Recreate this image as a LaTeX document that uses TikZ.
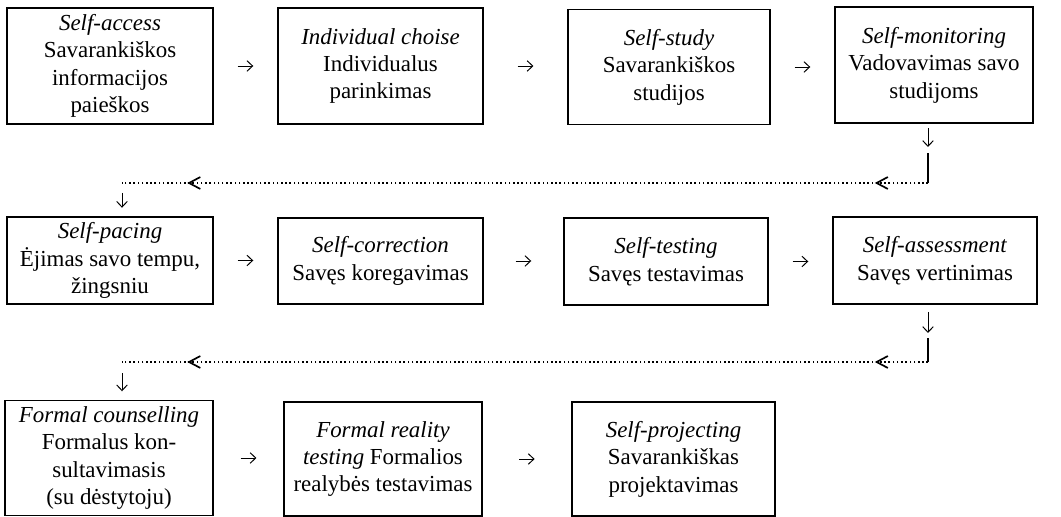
\documentclass[tikz,border=0pt]{standalone}
\usepackage{fontspec}
\setmainfont{Liberation Serif}
\usetikzlibrary{arrows.meta,decorations.markings}

\tikzset{
  stage/.style={draw, line width=1.1pt, align=center, inner sep=0pt,
    font=\fontsize{16.3}{19.5}\selectfont},
  tip/.style={-{Straight Barb[length=4pt,width=7.5pt]}, line width=0.7pt},
  flow/.style={tip, shorten <=#1, shorten >=#1},
  flow/.default=17pt,
  bar/.style={line width=0.9pt},
  back/.style={line width=1.1pt, dash pattern=on 1.1pt off 1.9pt,
    postaction={decorate},
    decoration={markings,
      mark=at position 0.066 with {\arrow{Straight Barb[length=8pt,width=8.5pt,line width=1.2pt]}},
      mark=at position 0.919 with {\arrow{Straight Barb[length=8pt,width=8.5pt,line width=1.2pt]}}}},
}

\begin{document}
\begin{tikzpicture}[x=0.025cm, y=-0.025cm]
    \useasboundingbox (0,0) rectangle (1061,517);

    % first row
    \node[stage, minimum width=5.15cm, minimum height=2.9cm] (b1) at (110,66)
      {\textit{Self-access}\\Savarankiškos\\informacijos\\paieškos};
    \node[stage, minimum width=5.125cm, minimum height=2.9cm] (b2) at (380.5,66)
      {\textit{Individual choise}\\Individualus\\parinkimas};
    \node[stage, minimum width=5.05cm, minimum height=2.875cm] (b3) at (669,67)
      {\textit{Self-study}\\Savarankiškos\\studijos};
    \node[stage, minimum width=4.95cm, minimum height=2.9cm] (b4) at (934,65)
      {\textit{Self-monitoring}\\Vadovavimas savo\\studijoms};

    \draw[flow] (b1.east) -- (b2.west |- b1.east);
    \draw[flow=24pt] (b2.east) -- (b3.west |- b2.east);
    \draw[flow] (b3.east) -- (b4.west |- b3.east);

    % second row
    \node[stage, minimum width=5.15cm, minimum height=2.175cm] (b5) at (110,260.5)
      {\textit{Self-pacing}\\Ėjimas savo tempu,\\žingsniu};
    \node[stage, minimum width=5.125cm, minimum height=2.15cm] (b6) at (380.5,261)
      {\textit{Self-correction}\\Savęs koregavimas};
    \node[stage, minimum width=5.1cm, minimum height=2.175cm] (b7) at (666,261.5)
      {\textit{Self-testing}\\Savęs testavimas};
    \node[stage, minimum width=5.1cm, minimum height=2.175cm] (b8) at (935,260.5)
      {\textit{Self-assessment}\\Savęs vertinimas};

    \draw[flow] (b5.east) -- (b6.west |- b5.east);
    \draw[flow=22.7pt] (b6.east) -- (b7.west |- b6.east);
    \draw[flow] (b7.east) -- (b8.west |- b7.east);

    % third row
    \node[stage, minimum width=5.2cm, minimum height=2.875cm] (b9) at (109,458)
      {\textit{Formal counselling}\\Formalus kon-\\sultavimasis\\(su dėstytoju)};
    \node[stage, minimum width=4.95cm, minimum height=2.85cm] (b10) at (383,459)
      {\textit{Formal reality}\\\textit{testing} Formalios\\realybės testavimas};
    \node[stage, minimum width=5.075cm, minimum height=2.85cm] (b11) at (673.5,459)
      {\textit{Self-projecting}\\Savarankiškas\\projektavimas};

    \draw[flow=19pt] (b9.east) -- (b10.west |- b9.east);
    \draw[flow=26pt] (b10.east) -- (b11.west |- b10.east);

    % returns from the end of a row to the start of the next
    \coordinate (r1) at (928,183);
    \coordinate (l1) at (122,183);
    \coordinate (r1a) at (928,147);
    \coordinate (r2) at (928,362);
    \coordinate (l2) at (122,362);
    \coordinate (r2a) at (928,333);

    \draw[tip, shorten <=3pt] (b4.south -| r1) -- (r1a);
    \draw[bar] (r1) -- ++(0,-30);
    \draw[back] (r1) -- (l1);
    \draw[tip, shorten <=7pt, shorten >=6pt] (l1) -- (l1 |- b5.north);

    \draw[tip, shorten <=5pt] (b8.south -| r2) -- (r2a);
    \draw[bar] (r2) -- ++(0,-24);
    \draw[back] (r2) -- (l2);
    \draw[tip, shorten <=8pt, shorten >=6pt] (l2) -- (l2 |- b9.north);
\end{tikzpicture}
\end{document}
